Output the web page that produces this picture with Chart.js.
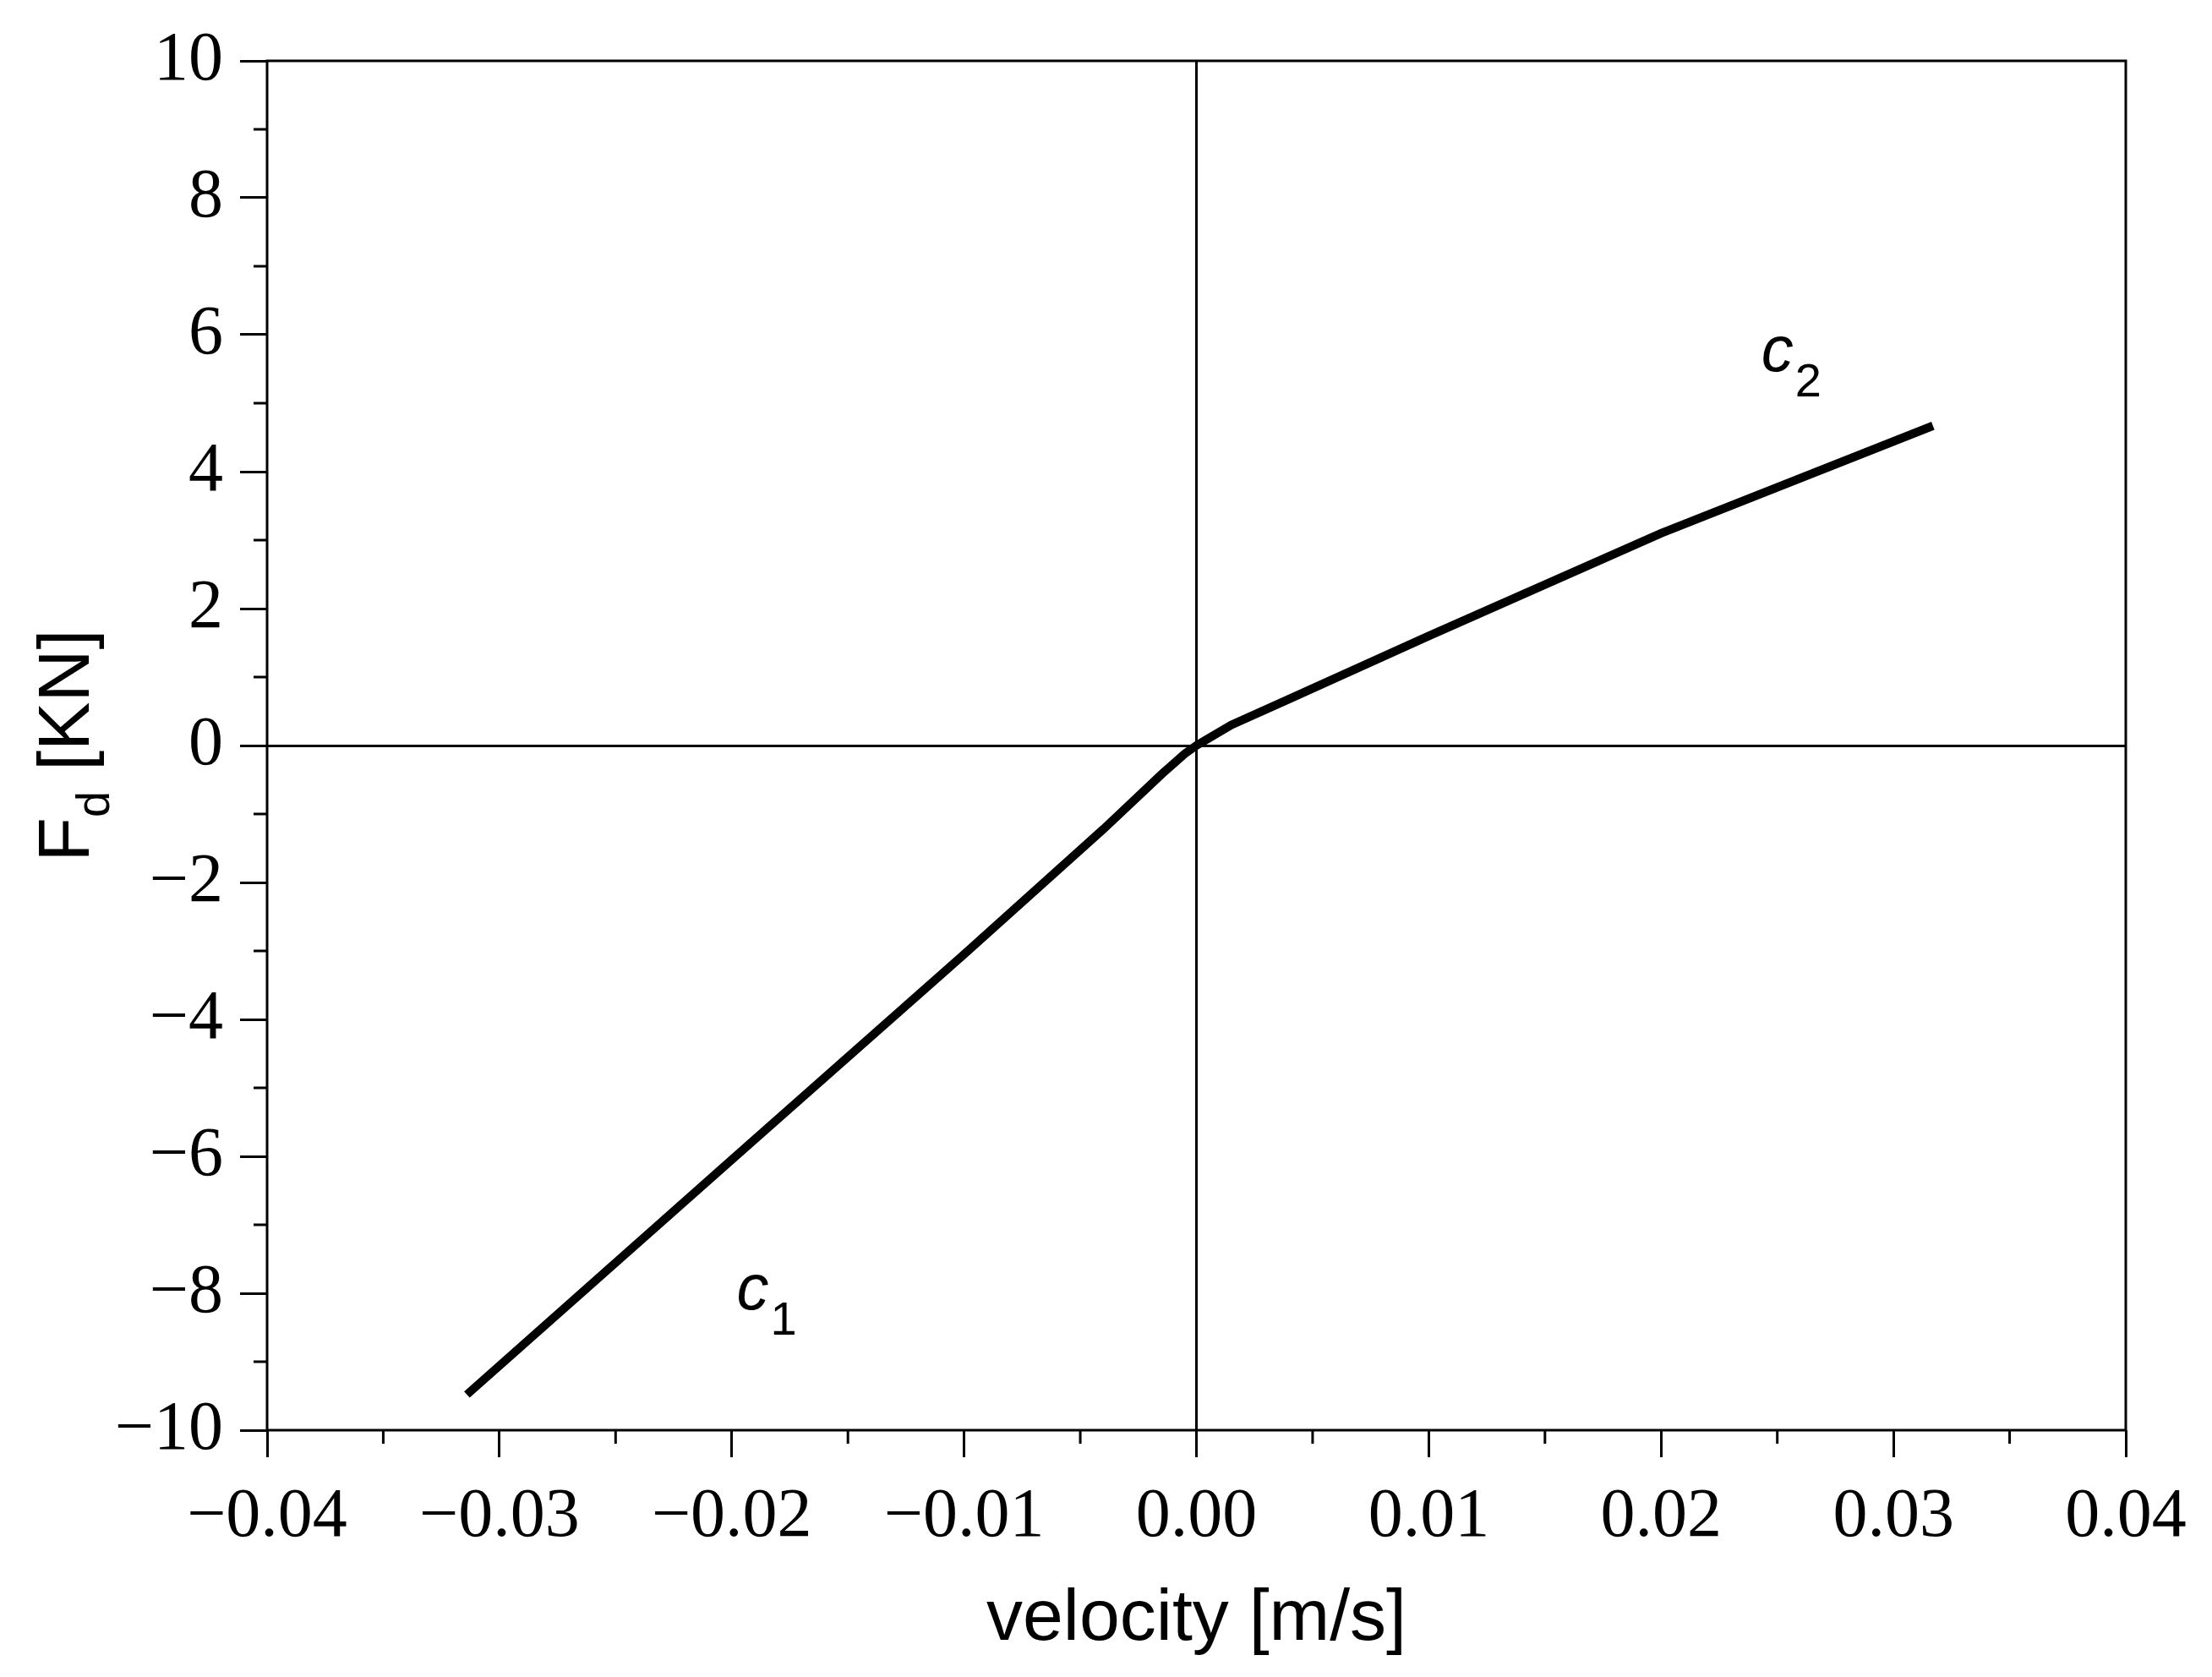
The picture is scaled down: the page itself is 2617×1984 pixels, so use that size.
<!DOCTYPE html>
<html>
<head>
<meta charset="utf-8">
<script src="https://cdn.jsdelivr.net/npm/chart.js@4"></script>
<style>
  html, body { margin: 0; padding: 0; background: #fff; }
  #wrap { width: 2617px; height: 1984px; }
</style>
</head>
<body>
<div id="wrap"><canvas id="fdChart"></canvas></div>
<script>
// force-velocity curve of the damper
const velocity = [-0.0314, -0.02, -0.01, -0.004, -0.0015, -0.0005, 0, 0.0005, 0.0015, 0.004, 0.01, 0.02, 0.0317];
const force    = [-9.48, -6.05, -3.05, -1.22, -0.42, -0.12, 0, 0.1, 0.3, 0.68, 1.6, 3.1, 4.67];
const xTicks = [-0.04, -0.03, -0.02, -0.01, 0, 0.01, 0.02, 0.03, 0.04];
const yTicks = [-10, -8, -6, -4, -2, 0, 2, 4, 6, 8, 10];
const curveLabels = [
    { x: -0.0187, y: -8.24, main: 'c', sub: '1' },
    { x: 0.0254, y: 5.47, main: 'c', sub: '2' }
];

const minus = s => s.replace('-', '\u2212');

const framePlugin = {
    id: 'frame',
    afterDraw(chart) {
        const { ctx, chartArea: a, scales: { x, y } } = chart;
        ctx.save();
        ctx.strokeStyle = '#000';
        ctx.lineWidth = 3;
        ctx.strokeRect(a.left, a.top, a.right - a.left, a.bottom - a.top);
        // minor ticks
        ctx.beginPath();
        for (let v = -0.035; v < 0.04; v += 0.01) {
            const px = x.getPixelForValue(v);
            ctx.moveTo(px, a.bottom); ctx.lineTo(px, a.bottom + 16);
        }
        for (let v = -9; v < 10; v += 2) {
            const py = y.getPixelForValue(v);
            ctx.moveTo(a.left, py); ctx.lineTo(a.left - 16, py);
        }
        ctx.stroke();

        // curve labels
        ctx.fillStyle = '#000';
        ctx.textBaseline = 'alphabetic';
        curveLabels.forEach(l => {
            const px = x.getPixelForValue(l.x), py = y.getPixelForValue(l.y);
            ctx.font = 'italic 76px "Liberation Sans", Arial, sans-serif';
            ctx.textAlign = 'left';
            ctx.fillText(l.main, px - 30, py);
            const w = ctx.measureText(l.main).width;
            ctx.font = '56px "Liberation Sans", Arial, sans-serif';
            ctx.fillText(l.sub, px - 30 + w + 2, py + 30);
        });

        // axis titles
        ctx.font = '86px "Liberation Sans", Arial, sans-serif';
        ctx.textAlign = 'center';
        ctx.fillText('velocity [m/s]', (a.left + a.right) / 2, 1940);

        ctx.translate(105, (a.top + a.bottom) / 2);
        ctx.rotate(-Math.PI / 2);
        ctx.textAlign = 'left';
        const t1 = 'F', t3 = ' [KN]';
        ctx.font = '86px "Liberation Sans", Arial, sans-serif';
        const w1 = ctx.measureText(t1).width;
        ctx.font = '56px "Liberation Sans", Arial, sans-serif';
        const w2 = ctx.measureText('d').width;
        ctx.font = '86px "Liberation Sans", Arial, sans-serif';
        const w3 = ctx.measureText(t3).width;
        let sx = -(w1 + w2 + w3) / 2;
        ctx.fillText(t1, sx, 0);
        ctx.font = '56px "Liberation Sans", Arial, sans-serif';
        ctx.fillText('d', sx + w1, 24);
        ctx.font = '86px "Liberation Sans", Arial, sans-serif';
        ctx.fillText(t3, sx + w1 + w2, 0);
        ctx.restore();
    }
};

const zeroLine = c => (Math.abs(c.tick.value) < 1e-9 ? '#000' : 'rgba(0,0,0,0)');

new Chart(document.getElementById('fdChart').getContext('2d'), {
    type: 'line',
    data: {
        datasets: [{
            data: velocity.map((v, i) => ({ x: v, y: force[i] })),
            borderColor: '#000',
            borderWidth: 10,
            pointRadius: 0,
            tension: 0,
            fill: false
        }]
    },
    options: {
        responsive: true, maintainAspectRatio: false, animation: false,
        layout: { padding: { top: 72, right: 102, left: 0, bottom: 0 } },
        plugins: { legend: { display: false }, tooltip: { enabled: false } },
        scales: {
            x: {
                type: 'linear', min: -0.04, max: 0.04,
                afterFit: s => { s.height = 292; },
                afterBuildTicks: s => { s.ticks = xTicks.map(v => ({ value: v })); },
                border: { display: false },
                grid: { color: zeroLine, lineWidth: 3, tickColor: '#000', tickLength: 32, drawOnChartArea: true },
                ticks: {
                    padding: 22, color: '#000',
                    font: { family: '"Liberation Serif", "Times New Roman", serif', size: 82 },
                    callback: v => minus(Number(v).toFixed(2))
                }
            },
            y: {
                type: 'linear', min: -10, max: 10,
                afterFit: s => { s.width = 316; },
                afterBuildTicks: s => { s.ticks = yTicks.map(v => ({ value: v })); },
                border: { display: false },
                grid: { color: zeroLine, lineWidth: 3, tickColor: '#000', tickLength: 32, drawOnChartArea: true },
                ticks: {
                    padding: 20, color: '#000',
                    font: { family: '"Liberation Serif", "Times New Roman", serif', size: 82 },
                    callback: v => minus(String(v))
                }
            }
        }
    },
    plugins: [framePlugin]
});
</script>
</body>
</html>
